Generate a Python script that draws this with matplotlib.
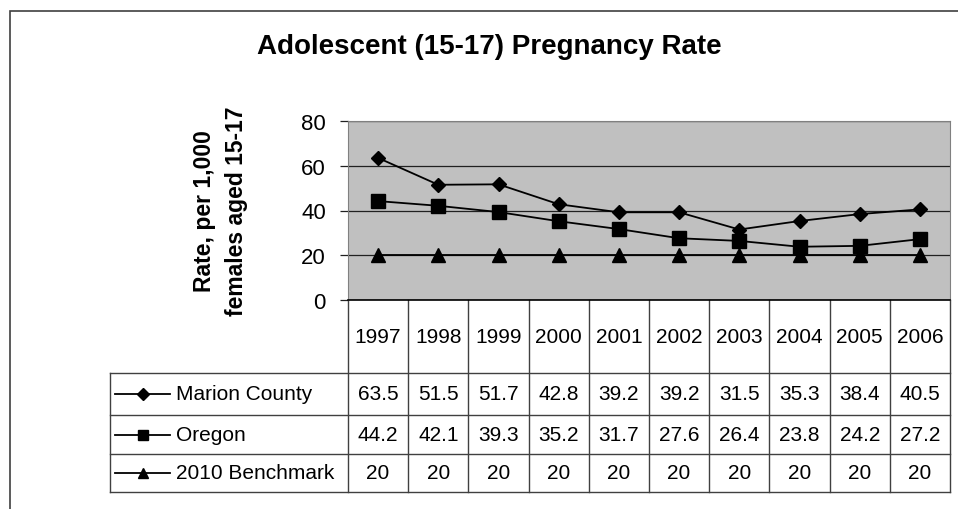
import matplotlib.pyplot as plt
import matplotlib.transforms as mtransforms
from matplotlib.lines import Line2D
from matplotlib.patches import Rectangle

plt.rcParams['font.family'] = ['Liberation Sans', 'DejaVu Sans']

# data
years = ['1997', '1998', '1999', '2000', '2001', '2002', '2003', '2004', '2005', '2006']
marion = [63.5, 51.5, 51.7, 42.8, 39.2, 39.2, 31.5, 35.3, 38.4, 40.5]
oregon = [44.2, 42.1, 39.3, 35.2, 31.7, 27.6, 26.4, 23.8, 24.2, 27.2]
benchmark = [20, 20, 20, 20, 20, 20, 20, 20, 20, 20]
series_names = ['Marion County', 'Oregon', '2010 Benchmark']
y_ticks = [0, 20, 40, 60, 80]

series = [marion, oregon, benchmark]
markers = ['D', 's', '^']
msizes = [7.5, 9.5, 9.5]
leg_msizes = [6, 7.5, 7.5]

W, H = 958, 510
fig = plt.figure(figsize=(W / 100, H / 100), dpi=100)

# plot area in pixel coordinates
px_left, px_right, px_top, px_bottom = 348, 950, 122, 301
ax = fig.add_axes([px_left / W, 1 - px_bottom / H,
                   (px_right - px_left) / W, (px_bottom - px_top) / H])
ax.set_facecolor('#c0c0c0')

x = list(range(len(years)))
for vals, m, ms in zip(series, markers, msizes):
    ax.plot(x, vals, color='black', lw=1.3, marker=m, markersize=ms,
            markerfacecolor='black', markeredgecolor='black', clip_on=False, zorder=3)

ax.set_xlim(-0.5, len(years) - 0.5)
ax.set_ylim(0, 80)
ax.set_yticks(y_ticks)
ax.set_xticks([])
ax.yaxis.grid(True, color='#202020', lw=0.9)
ax.set_axisbelow(True)
ax.tick_params(axis='y', length=6, width=0.9, color='#202020', pad=10, labelsize=16)
for side in ['top', 'right', 'left']:
    ax.spines[side].set_color('#808080')
ax.spines['bottom'].set_color('black')
ax.spines['bottom'].set_linewidth(1.2)

# data table under the plot
ph = px_bottom - px_top
pw = px_right - px_left
row_y = [0, -73 / ph, -115 / ph, -154 / ph, -192 / ph]
leg_left = (110 - px_left) / pw
trans = mtransforms.blended_transform_factory(ax.transData, ax.transAxes)
lc = '#404040'

for i in range(len(years) + 1):
    ax.add_line(Line2D([i - 0.5, i - 0.5], [row_y[0], row_y[-1]], transform=trans,
                       color=lc, lw=1, clip_on=False))
for yy in row_y[1:]:
    ax.add_line(Line2D([leg_left, 1], [yy, yy], transform=ax.transAxes,
                       color=lc, lw=1, clip_on=False))
ax.add_line(Line2D([leg_left, leg_left], [row_y[1], row_y[-1]], transform=ax.transAxes,
                   color=lc, lw=1, clip_on=False))

for i, yr in enumerate(years):
    ax.text(i, (row_y[0] + row_y[1]) / 2, yr, transform=trans, ha='center', va='center',
            fontsize=15)

for r, (name, vals, m, ms) in enumerate(zip(series_names, series, markers, leg_msizes)):
    yc = (row_y[r + 1] + row_y[r + 2]) / 2
    for i, v in enumerate(vals):
        ax.text(i, yc, f'{v:g}', transform=trans, ha='center', va='center', fontsize=15)
    x0 = (115 - px_left) / pw
    x1 = (170 - px_left) / pw
    ax.add_line(Line2D([x0, x1], [yc, yc], transform=ax.transAxes, color='black',
                       lw=1.3, clip_on=False))
    ax.add_line(Line2D([(x0 + x1) / 2], [yc], transform=ax.transAxes, marker=m,
                       markersize=ms, color='black', clip_on=False))
    ax.text((176 - px_left) / pw, yc, name, transform=ax.transAxes, ha='left',
            va='center', fontsize=15)

# titles
fig.text(489 / W, 1 - 47 / H, 'Adolescent (15-17) Pregnancy Rate', ha='center',
         va='center', fontsize=20, fontweight='bold')
fig.text(205 / W, 1 - 211 / H, 'Rate, per 1,000', rotation=90, ha='center',
         va='center', fontsize=16.5, fontweight='bold')
fig.text(237 / W, 1 - 211 / H, 'females aged 15-17', rotation=90, ha='center',
         va='center', fontsize=16.5, fontweight='bold')

# outer chart border
fig.patches.append(Rectangle((10 / W, -0.1), 1.2, 1 - 12 / H + 0.1,
                             transform=fig.transFigure, fill=False,
                             edgecolor='#404040', lw=1.2))

fig.savefig('out.png', dpi=100)
